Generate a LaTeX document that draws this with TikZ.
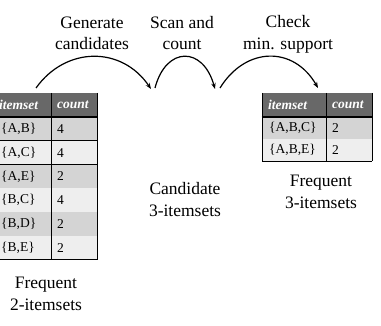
\documentclass[tikz,border=0pt]{standalone}
\usepackage{fontspec}
\setmainfont{Liberation Serif}
\usetikzlibrary{arrows.meta}
\definecolor{hdrfill}{HTML}{686868}
\definecolor{rowdark}{HTML}{D4D4D4}
\definecolor{rowlight}{HTML}{EEEEEE}
\begin{document}
\begin{tikzpicture}[x=1pt,y=-1pt]
\tikzset{
 lbl/.style={font=\fontsize{17.5}{21}\selectfont, anchor=base, inner sep=0pt},
 cell/.style={font=\fontsize{13.5}{15}\selectfont, anchor=west, inner sep=0pt},
 hdr/.style={font=\fontsize{13.5}{15}\selectfont\bfseries\itshape, text=white, anchor=west, inner sep=0pt},
 flow/.style={line width=1.2pt, -{Stealth[length=6pt,width=4.5pt]}},
 gridline/.style={line width=0.8pt, black},
 hdrline/.style={line width=2pt, black},
}
\fill[white] (0,0) rectangle (381,326);
\useasboundingbox (0,0) rectangle (381,326);

% ---------- left table ----------
\fill[hdrfill] (-7,93) rectangle (97,117);
\node[hdr] (lh1) at (-1,105) {itemset};
\node[hdr] (lh2) at (57,105) {count};
\foreach \i/\s/\c/\f in {0/{\{A,B\}}/4/rowdark, 1/{\{A,C\}}/4/rowlight, 2/{\{A,E\}}/2/rowdark, 3/{\{B,C\}}/4/rowlight, 4/{\{B,D\}}/2/rowdark, 5/{\{B,E\}}/2/rowlight}{
  \fill[\f] (-7,117+\i*23.8) rectangle (97,140.8+\i*23.8);
  \node[cell] (ls\i) at (1,128.9+\i*23.8) {\s};
  \node[cell] (lc\i) at (57,128.9+\i*23.8) {\c};
  \draw[gridline] (-7,140.8+\i*23.8) -- (97,140.8+\i*23.8);
}
\draw[gridline] (51,93) -- (51,259.8);
\draw[gridline] (97,93) -- (97,259.8);
\draw[hdrline] (-7,117) -- (97.4,117);

% ---------- right table ----------
\fill[hdrfill] (262,93) rectangle (372,117);
\node[hdr] (rh1) at (268,105) {itemset};
\node[hdr] (rh2) at (332,105) {count};
\foreach \i/\s/\c/\f in {0/{\{A,B,C\}}/2/rowdark, 1/{\{A,B,E\}}/2/rowlight}{
  \fill[\f] (262,117+\i*22) rectangle (372,139+\i*22);
  \node[cell] (rs\i) at (269,128+\i*22) {\s};
  \node[cell] (rc\i) at (332,128+\i*22) {\c};
  \draw[gridline] (262,139+\i*22) -- (372,139+\i*22);
}
\draw[gridline] (262,93) -- (262,161);
\draw[gridline] (326,93) -- (326,161);
\draw[gridline] (372,93) -- (372,161);
\draw[hdrline] (261.6,117) -- (372.4,117);

% ---------- labels ----------
\node[lbl] (gen1) at (92,29) {Generate};
\node[lbl] (gen2) at (92,50) {candidates};
\node[lbl] (scan1) at (182,29) {Scan and};
\node[lbl] (scan2) at (182,50) {count};
\node[lbl] (chk1) at (288,28) {Check};
\node[lbl] (chk2) at (288,50) {min. support};
\node[lbl] (f2a) at (46,289) {Frequent};
\node[lbl] (f2b) at (46,311) {2-itemsets};
\node[lbl] (c3a) at (185,195) {Candidate};
\node[lbl] (c3b) at (185,217) {3-itemsets};
\node[lbl] (f3a) at (321,187) {Frequent};
\node[lbl] (f3b) at (321,209) {3-itemsets};

% ---------- arrows ----------
\coordinate (a1s) at (36,88);
\coordinate (a1e) at (151,89);
\coordinate (a2s) at (155,88);
\coordinate (a2e) at (215,89);
\coordinate (a3s) at (220,88);
\coordinate (a3e) at (318,88);
\draw[flow] (a1s) .. controls (66,46) and (122,46) .. (a1e);
\draw[flow] (a2s) .. controls (166,46) and (203,46) .. (a2e);
\draw[flow] (a3s) .. controls (246,46) and (294,46) .. (a3e);
\end{tikzpicture}
\end{document}
